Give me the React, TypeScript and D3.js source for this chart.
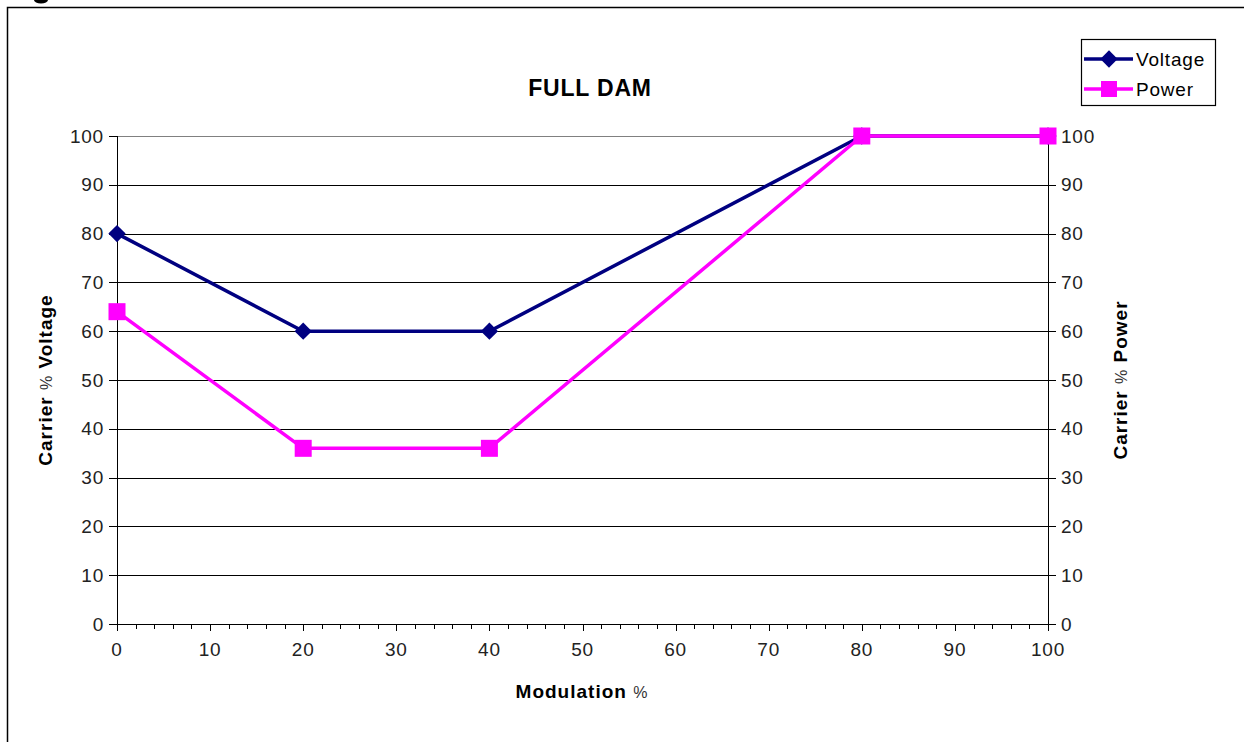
import React from "react";
import * as d3 from "d3";

const modulation = [0, 20, 40, 80, 100];
const voltage = [80, 60, 60, 100, 100];
const power = [64, 36, 36, 100, 100];
const yTicks = [0, 10, 20, 30, 40, 50, 60, 70, 80, 90, 100];
const xTicks = [0, 10, 20, 30, 40, 50, 60, 70, 80, 90, 100];
const xMinorTicks = d3.range(0, 101, 2);
const seriesNames = ["Voltage", "Power"];
const seriesColors = ["#000080", "#FF00FF"];

const W = 1244;
const H = 742;
const FONT = "Arial, 'Liberation Sans', sans-serif";

export default function App() {
  const x = d3.scaleLinear().domain([0, 100]).range([117, 1048]);
  const y = d3.scaleLinear().domain([0, 100]).range([624, 136]);
  const line = d3
    .line<[number, number]>()
    .x((d) => x(d[0]))
    .y((d) => y(d[1]));
  const vPts: [number, number][] = modulation.map((m, i) => [m, voltage[i]]);
  const pPts: [number, number][] = modulation.map((m, i) => [m, power[i]]);
  const diamond = d3.symbol().type(d3.symbolDiamond2).size(190)();
  const tickColor = "#222";
  const tickFs = 19;
  const tickLs = 0.8;

  return (
    <svg
      width={W}
      height={H}
      style={{ position: "absolute", left: 0, top: 0, background: "#fff" }}
      fontFamily={FONT}
    >
      <rect x={0} y={0} width={W} height={H} fill="#fff" />
      <ellipse cx={41} cy={0} rx={7} ry={3.5} fill="#000" />
      <rect x={7.5} y={7.5} width={W + 20} height={H + 20} fill="none" stroke="#000" strokeWidth={1.5} />

      {/* gridlines */}
      {yTicks.map((t) => (
        <line
          key={"g" + t}
          x1={x(0)}
          x2={x(100)}
          y1={Math.round(y(t)) + 0.5}
          y2={Math.round(y(t)) + 0.5}
          stroke={t === 100 ? "#808080" : "#000"}
          strokeWidth={1}
        />
      ))}

      {/* axes */}
      <line x1={x(0) + 0.5} x2={x(0) + 0.5} y1={y(100)} y2={y(0) + 6} stroke="#000" />
      <line x1={x(100) + 0.5} x2={x(100) + 0.5} y1={y(100)} y2={y(0) + 6} stroke="#000" />
      <line x1={x(0) - 8} x2={x(100) + 8} y1={Math.round(y(0)) + 0.5} y2={Math.round(y(0)) + 0.5} stroke="#000" />

      {/* y ticks, both sides */}
      {yTicks.map((t) => (
        <g key={"ly" + t}>
          <line x1={x(0) - 8} x2={x(0)} y1={Math.round(y(t)) + 0.5} y2={Math.round(y(t)) + 0.5} stroke="#000" />
          <text x={x(0) - 13} y={y(t)} dy="0.35em" textAnchor="end" fontSize={tickFs} letterSpacing={tickLs} fill={tickColor}>
            {t}
          </text>
          <line x1={x(100)} x2={x(100) + 8} y1={Math.round(y(t)) + 0.5} y2={Math.round(y(t)) + 0.5} stroke="#000" />
          <text x={x(100) + 13} y={y(t)} dy="0.35em" textAnchor="start" fontSize={tickFs} letterSpacing={tickLs} fill={tickColor}>
            {t}
          </text>
        </g>
      ))}

      {/* x ticks */}
      {xMinorTicks.map((t) => (
        <line
          key={"xm" + t}
          x1={Math.round(x(t)) + 0.5}
          x2={Math.round(x(t)) + 0.5}
          y1={y(0)}
          y2={y(0) + (t % 10 === 0 ? 7 : 5)}
          stroke="#000"
        />
      ))}
      {xTicks.map((t) => (
        <text key={"xl" + t} x={x(t)} y={y(0) + 25} dy="0.35em" textAnchor="middle" fontSize={tickFs} letterSpacing={tickLs} fill={tickColor}>
          {t}
        </text>
      ))}

      {/* titles */}
      <text x={590} y={88} dy="0.35em" textAnchor="middle" fontSize={23} fontWeight="bold" letterSpacing={0.8}>
        FULL DAM
      </text>
      <text x={582} y={691} dy="0.35em" textAnchor="middle" fontSize={19} fontWeight="bold" letterSpacing={1}>
        Modulation <tspan fontWeight="normal" fontSize={16} fill="#333">%</tspan>
      </text>
      <text
        transform={`translate(45,${y(50)}) rotate(-90)`}
        dy="0.35em"
        textAnchor="middle"
        fontSize={19}
        fontWeight="bold"
        letterSpacing={1}
      >
        Carrier <tspan fontWeight="normal" fontSize={16} fill="#333">%</tspan> Voltage
      </text>
      <text
        transform={`translate(1120,${y(50)}) rotate(-90)`}
        dy="0.35em"
        textAnchor="middle"
        fontSize={19}
        fontWeight="bold"
        letterSpacing={1}
      >
        Carrier <tspan fontWeight="normal" fontSize={16} fill="#333">%</tspan> Power
      </text>

      {/* series */}
      <path d={line(vPts) || ""} fill="none" stroke={seriesColors[0]} strokeWidth={3.5} />
      {vPts.map((p, i) => (
        <path key={"vm" + i} d={diamond || ""} transform={`translate(${x(p[0])},${y(p[1])})`} fill={seriesColors[0]} />
      ))}
      <path d={line(pPts) || ""} fill="none" stroke={seriesColors[1]} strokeWidth={3.5} />
      {pPts.map((p, i) => (
        <rect key={"pm" + i} x={x(p[0]) - 8.5} y={y(p[1]) - 8.5} width={17} height={17} fill={seriesColors[1]} />
      ))}

      {/* legend */}
      <rect x={1081.5} y={39.5} width={134} height={66} fill="#fff" stroke="#000" strokeWidth={1.2} />
      {seriesNames.map((name, i) => {
        const ly = 59 + i * 30;
        return (
          <g key={name}>
            <line x1={1084} x2={1133} y1={ly} y2={ly} stroke={seriesColors[i]} strokeWidth={3.5} />
            {i === 0 ? (
              <path d={diamond || ""} transform={`translate(1109,${ly})`} fill={seriesColors[i]} />
            ) : (
              <rect x={1101} y={ly - 8} width={16} height={16} fill={seriesColors[i]} />
            )}
            <text x={1136} y={ly} dy="0.35em" fontSize={19} letterSpacing={0.8} fill="#000">
              {name}
            </text>
          </g>
        );
      })}
    </svg>
  );
}
